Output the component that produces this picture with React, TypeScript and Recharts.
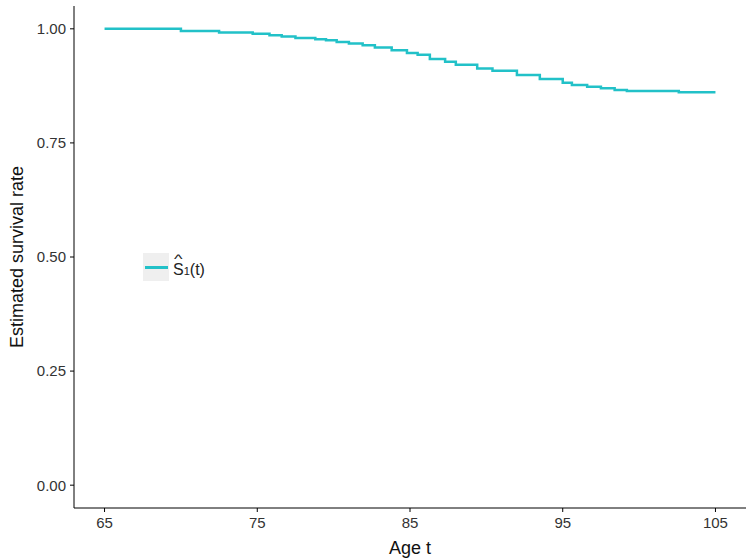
import { LineChart, Line, XAxis, YAxis } from 'recharts'

// Kaplan-Meier style estimate
const ages = [65, 70, 72.5, 74.7, 75.8, 76.6, 77.5, 78.8, 79.5, 80.2, 81, 81.9, 82.7, 83.8, 84.8, 85.5, 86.3, 87.3, 88, 89.4, 90.4, 92, 93.5, 95, 95.6, 96.6, 97.5, 98.4, 99.2, 102.6, 105]
const survival = [1, 0.995, 0.992, 0.989, 0.986, 0.983, 0.98, 0.977, 0.975, 0.971, 0.968, 0.964, 0.959, 0.953, 0.947, 0.943, 0.934, 0.928, 0.921, 0.913, 0.908, 0.899, 0.89, 0.882, 0.877, 0.873, 0.87, 0.866, 0.864, 0.861, 0.861]
const xTicks = [65, 75, 85, 95, 105]
const yTicks = [0, 0.25, 0.5, 0.75, 1]

const data = ages.map((t, i) => ({ t, s: survival[i] }))

const LINE_COLOR = '#22c1c8'
const FONT = '"Liberation Sans", Arial, sans-serif'

function SurvivalLegend() {
  return (
    <div
      style={{
        position: 'absolute',
        left: 143,
        top: 253,
        display: 'flex',
        alignItems: 'center',
        fontFamily: FONT,
      }}
    >
      <div
        style={{
          width: 26,
          height: 28,
          background: '#efefef',
          display: 'flex',
          alignItems: 'center',
          justifyContent: 'center',
        }}
      >
        <div style={{ width: 23, height: 3, background: LINE_COLOR }} />
      </div>
      <span style={{ marginLeft: 4, fontSize: 16, color: '#222', position: 'relative', top: 3, whiteSpace: 'nowrap' }}>
        <span style={{ position: 'relative', display: 'inline-block' }}>
          S
          <span
            style={{
              position: 'absolute',
              left: 0,
              width: '100%',
              textAlign: 'center',
              top: -10,
              fontSize: 13,
              transform: 'scaleX(1.4)',
            }}
          >
            ^
          </span>
        </span>
        <span style={{ fontSize: 11 }}>1</span>(t)
      </span>
    </div>
  )
}

export default function App() {
  return (
    <div style={{ position: 'absolute', left: 0, top: 0, width: 746, height: 560, background: '#fff' }}>
      <LineChart width={746} height={560} data={data} margin={{ top: 6, right: 0, bottom: 0, left: 0 }}>
        <XAxis
          dataKey="t"
          type="number"
          domain={[63, 107]}
          ticks={xTicks}
          allowDataOverflow
          height={52}
          stroke="#000"
          tickSize={4}
          tickMargin={5}
          tick={{ fill: '#333', fontSize: 15, fontFamily: FONT }}
          label={{ value: 'Age t', position: 'insideBottom', offset: 6, fill: '#111', fontSize: 18, fontFamily: FONT }}
        />
        <YAxis
          type="number"
          domain={[-0.05, 1.05]}
          ticks={yTicks}
          allowDataOverflow
          width={74}
          stroke="#000"
          tickSize={4}
          tickMargin={4}
          tickFormatter={(v: number) => v.toFixed(2)}
          tick={{ fill: '#333', fontSize: 15, fontFamily: FONT }}
          label={{
            value: 'Estimated survival rate',
            angle: -90,
            position: 'insideLeft',
            offset: 17,
            style: { textAnchor: 'middle' },
            fill: '#111',
            fontSize: 18,
            fontFamily: FONT,
          }}
        />
        <Line
          type="stepAfter"
          dataKey="s"
          stroke={LINE_COLOR}
          strokeWidth={2.5}
          dot={false}
          isAnimationActive={false}
        />
      </LineChart>
      <SurvivalLegend />
    </div>
  )
}
